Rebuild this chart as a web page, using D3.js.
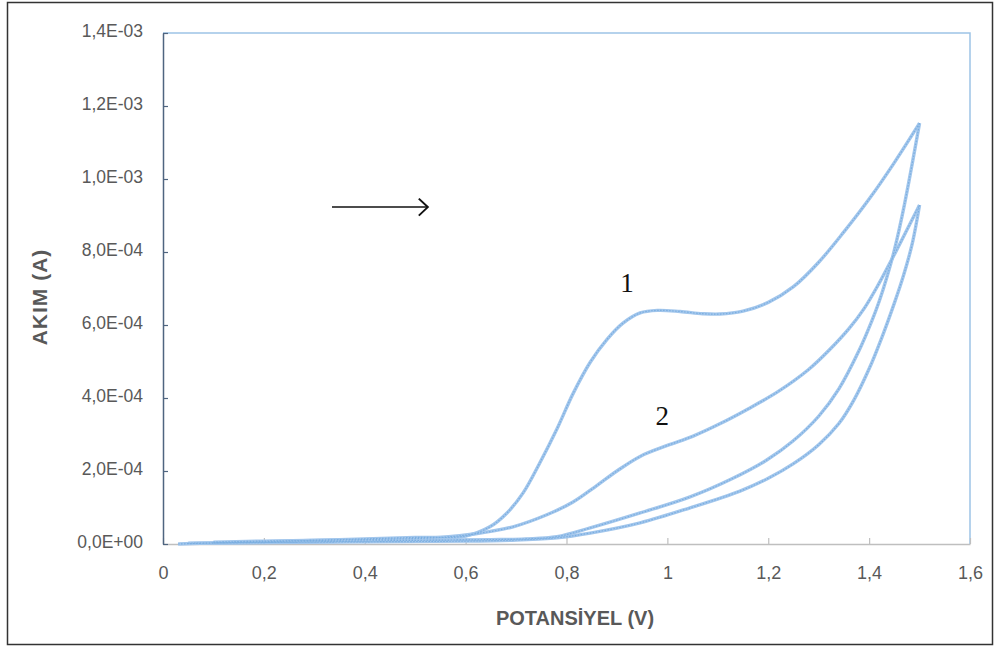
<!DOCTYPE html>
<html><head><meta charset="utf-8">
<script src="https://cdn.jsdelivr.net/npm/d3@7"></script>
<style>body{margin:0;background:#fff}</style>
</head><body>
<svg id="chart" width="1001" height="648"></svg>
<script>
// Values in volts (V) and current in units of 1e-4 A
const scan1Forward = [[0.03,0.0],[0.1,0.03],[0.2,0.06],[0.3,0.1],[0.4,0.14],[0.5,0.18],[0.6,0.22],[0.648,0.47],[0.682,0.85],[0.714,1.40],[0.747,2.22],[0.781,3.15],[0.813,4.12],[0.847,4.98],[0.88,5.6],[0.912,6.05],[0.946,6.33],[0.98,6.4],[1.025,6.37],[1.07,6.31],[1.104,6.30],[1.15,6.38],[1.2,6.62],[1.25,7.05],[1.3,7.72],[1.35,8.55],[1.4,9.45],[1.45,10.45],[1.5,11.53]];
const scan1Reverse = [[0.1,0.03],[0.3,0.06],[0.5,0.1],[0.65,0.12],[0.72,0.14],[0.781,0.2],[0.847,0.44],[0.946,0.85],[1.045,1.29],[1.13,1.8],[1.197,2.3],[1.249,2.82],[1.3,3.5],[1.34,4.25],[1.38,5.3],[1.405,6.1],[1.42,6.65],[1.435,7.3],[1.45,8.05],[1.47,9.3],[1.5,11.53]];
const scan2Forward = [[0.1,0.05],[0.2,0.08],[0.4,0.12],[0.55,0.18],[0.62,0.28],[0.694,0.47],[0.761,0.8],[0.813,1.15],[0.86,1.6],[0.9,2.0],[0.946,2.4],[1.0,2.7],[1.05,2.95],[1.105,3.3],[1.16,3.7],[1.22,4.18],[1.28,4.78],[1.32,5.3],[1.36,5.9],[1.39,6.45],[1.418,7.1],[1.46,8.2],[1.5,9.29]];
const scan2Reverse = [[0.05,0.02],[0.2,0.04],[0.4,0.06],[0.6,0.08],[0.7,0.11],[0.781,0.17],[0.847,0.30],[0.946,0.58],[1.045,0.99],[1.144,1.45],[1.2,1.8],[1.25,2.2],[1.3,2.72],[1.34,3.3],[1.37,3.95],[1.4,4.8],[1.425,5.65],[1.45,6.6],[1.468,7.35],[1.485,8.2],[1.5,9.29]];

const xTicks = [0,0.2,0.4,0.6,0.8,1.0,1.2,1.4,1.6];
const xTickLabels = ["0","0,2","0,4","0,6","0,8","1","1,2","1,4","1,6"];
const yTicks = [0,2,4,6,8,10,12,14];
const yTickLabels = ["0,0E+00","2,0E-04","4,0E-04","6,0E-04","8,0E-04","1,0E-03","1,2E-03","1,4E-03"];
const xTitle = "POTANSİYEL (V)";
const yTitle = "AKIM (A)";
const curveLabels = [{t:"1", v:0.92, i:6.9},{t:"2", v:0.99, i:3.25}];

const svg = d3.select("#chart");
const L = 163, R = 970, T = 33, B = 544;
const x = d3.scaleLinear().domain([0,1.6]).range([L,R]);
const y = d3.scaleLinear().domain([0,14]).range([B,T]);
const FONT = "Liberation Sans, Arial, sans-serif";

// outer frame
svg.append("rect").attr("x",7.5).attr("y",2.5).attr("width",985).attr("height",642)
  .attr("fill","none").attr("stroke","#333").attr("stroke-width",1.5);

// plot frame top & right
svg.append("path").attr("d",`M${L},${T}H${R}V${B}`).attr("fill","none")
  .attr("stroke","#9dc3e6").attr("stroke-width",1.5);

// x axis
const xAxis = d3.axisBottom(x).tickValues(xTicks).tickFormat((d,i)=>xTickLabels[i])
  .tickSizeInner(-6).tickSizeOuter(0).tickPadding(22);
const gx = svg.append("g").attr("transform",`translate(0,${B})`).call(xAxis);
gx.select(".domain").attr("stroke","#bfbfbf").attr("stroke-width",1.5);
gx.selectAll(".tick line").attr("stroke","#bfbfbf").attr("stroke-width",1.2);
gx.selectAll("text").attr("fill","#595959").style("font-family",FONT).style("font-size","18px");

// y axis
const yAxis = d3.axisLeft(y).tickValues(yTicks).tickFormat((d,i)=>yTickLabels[i])
  .tickSizeInner(-5).tickSizeOuter(0).tickPadding(20);
const gy = svg.append("g").attr("transform",`translate(${L},0)`).call(yAxis);
gy.select(".domain").attr("stroke","#4f6580").attr("stroke-width",1.5);
gy.selectAll(".tick line").attr("stroke","#4f6580").attr("stroke-width",1.2);
gy.selectAll("text").attr("fill","#595959").attr("dy","0.2em").style("font-family",FONT).style("font-size","17.5px");

// titles
svg.append("text").attr("x",575).attr("y",625).attr("text-anchor","middle")
  .attr("fill","#595959").style("font-family",FONT)
  .style("font-size","20px").style("font-weight","bold").text(xTitle);
svg.append("text").attr("transform","translate(47,297) rotate(-90)").attr("text-anchor","middle")
  .attr("fill","#595959").style("font-family",FONT).style("letter-spacing","1px")
  .style("font-size","21px").style("font-weight","bold").text(yTitle);

// curves
const line = d3.line().x(d=>x(d[0])).y(d=>y(d[1])).curve(d3.curveCatmullRom.alpha(0.5));
const scans = [scan1Forward, scan1Reverse, scan2Forward, scan2Reverse];
const cg = svg.append("g");
cg.selectAll("path.outer").data(scans).join("path").attr("class","outer")
  .attr("d",line).attr("fill","none").attr("stroke","#a2c6ec").attr("stroke-width",3.4)
  .attr("stroke-linejoin","round");
cg.selectAll("path.inner").data(scans).join("path").attr("class","inner")
  .attr("d",line).attr("fill","none").attr("stroke","#7aaee0").attr("stroke-width",1.2)
  .attr("stroke-dasharray","1.5,1.5");

// curve labels
svg.selectAll("text.lbl").data(curveLabels).join("text").attr("class","lbl")
  .attr("x",d=>x(d.v)).attr("y",d=>y(d.i)).attr("text-anchor","middle")
  .style("font-family","Liberation Serif, Times New Roman, serif").style("font-size","27px")
  .attr("fill","#111").text(d=>d.t);

// scan direction arrow
const ax0 = x(0.335), ax1 = x(0.525), ay = y(9.23);
svg.append("line").attr("x1",ax0).attr("x2",ax1).attr("y1",ay).attr("y2",ay)
  .attr("stroke","#111").attr("stroke-width",1.5);
svg.append("path").attr("d",`M${ax1-9},${ay-8.5}L${ax1},${ay}L${ax1-9},${ay+8.5}`)
  .attr("fill","none").attr("stroke","#111").attr("stroke-width",2);
</script>
</body></html>
